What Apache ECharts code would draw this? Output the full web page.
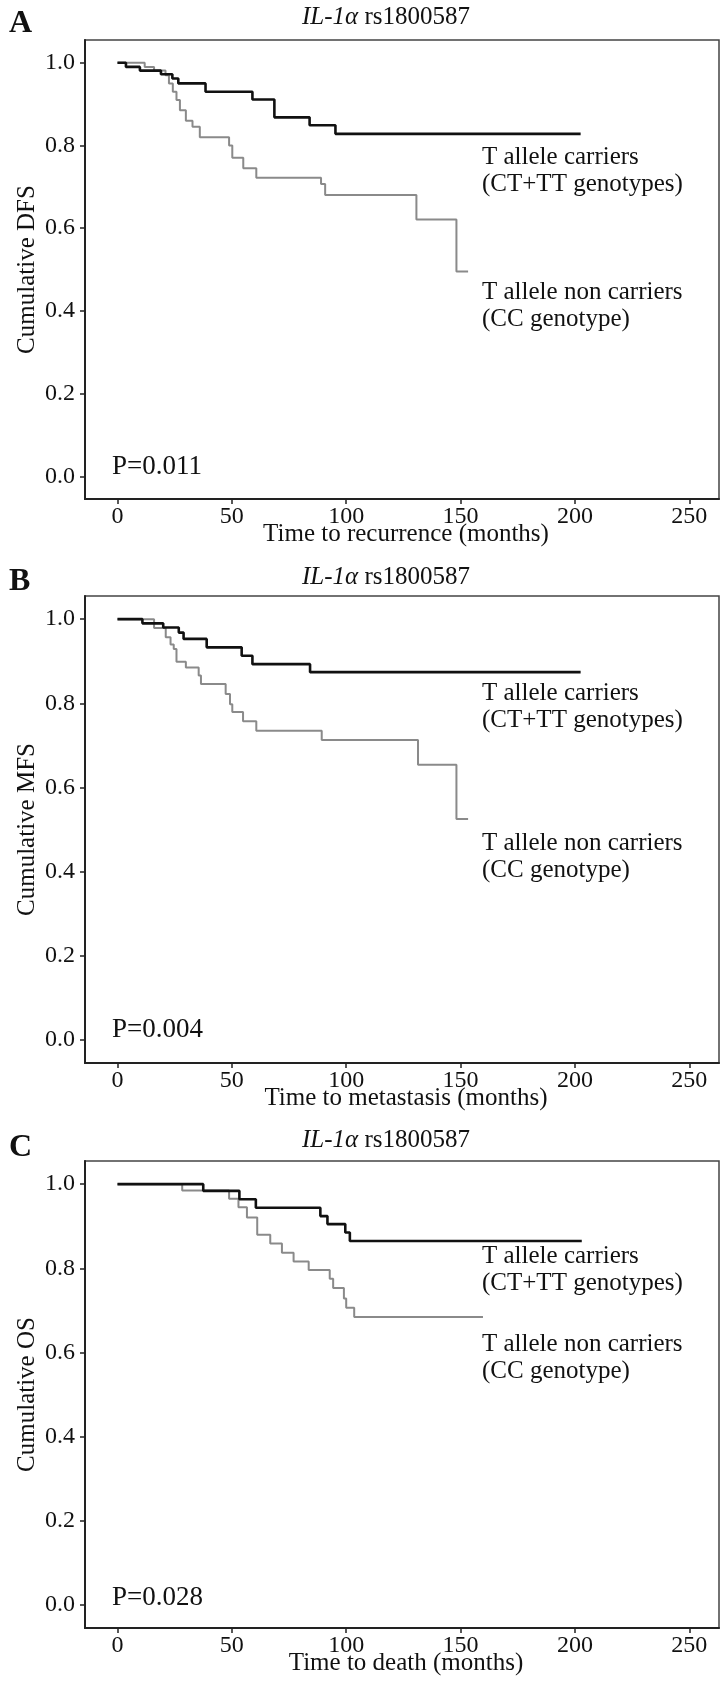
<!DOCTYPE html>
<html>
<head>
<meta charset="utf-8">
<script src="https://cdn.jsdelivr.net/npm/echarts@6/dist/echarts.min.js"></script>
<style>html,body{margin:0;padding:0;background:#fff}#c{width:724px;height:1692px}</style>
</head>
<body>
<div id="c"></div>
<script>
// ---- data ----
const xTicks = [0, 50, 100, 150, 200, 250];
const yTicks = [0.0, 0.2, 0.4, 0.6, 0.8, 1.0];

const panelLetters = ['A', 'B', 'C'];
const yTitles = ['Cumulative DFS', 'Cumulative MFS', 'Cumulative OS'];
const xTitles = ['Time to recurrence (months)', 'Time to metastasis (months)', 'Time to death (months)'];
const pValues = ['P=0.011', 'P=0.004', 'P=0.028'];
const carrierLabel = ['T allele carriers', '(CT+TT genotypes)'];
const nonCarrierLabel = ['T allele non carriers', '(CC genotype)'];

// Panel A: DFS
const dfsCarrierTime = [0, 3.7, 9.8, 19, 24, 26.6, 38.5, 59, 68.6, 84, 95.3, 202.5];
const dfsCarrierSurv = [1.0, 0.99, 0.981, 0.972, 0.962, 0.95, 0.93, 0.911, 0.868, 0.849, 0.828, 0.828];
const dfsNonTime = [0, 11.9, 16, 21, 22.5, 24.2, 25.8, 27.3, 29.9, 32.8, 36, 48.8, 50.2, 55, 60.7, 89, 90.8, 130.7, 148.2, 153.3];
const dfsNonSurv = [1.0, 0.99, 0.981, 0.97, 0.95, 0.93, 0.91, 0.885, 0.86, 0.845, 0.82, 0.80, 0.77, 0.745, 0.722, 0.707, 0.68, 0.621, 0.495, 0.495];

// Panel B: MFS
const mfsCarrierTime = [0, 10.9, 20, 26.8, 28.9, 39, 54.3, 59, 84.2, 202.5];
const mfsCarrierSurv = [1.0, 0.99, 0.98, 0.968, 0.953, 0.933, 0.913, 0.893, 0.874, 0.874];
const mfsNonTime = [0, 16, 21.1, 23.2, 24.6, 25.8, 29.9, 35.5, 36.5, 47.3, 49.2, 50.2, 54.9, 60.7, 89.3, 131.4, 148.2, 153.3];
const mfsNonSurv = [1.0, 0.979, 0.957, 0.94, 0.929, 0.899, 0.885, 0.866, 0.846, 0.822, 0.798, 0.779, 0.757, 0.735, 0.713, 0.654, 0.525, 0.525];

// Panel C: OS
const osCarrierTime = [0, 37.5, 53.3, 60.5, 88.7, 91.8, 99.6, 101.6, 203];
const osCarrierSurv = [1.0, 0.984, 0.964, 0.944, 0.924, 0.905, 0.885, 0.865, 0.865];
const osNonTime = [0, 28.3, 48.8, 52.9, 56.6, 61.1, 66.8, 71.9, 77, 83.6, 92.8, 94.3, 99, 100, 103.5, 159.8];
const osNonSurv = [1.0, 0.985, 0.965, 0.945, 0.921, 0.88, 0.859, 0.837, 0.816, 0.796, 0.775, 0.753, 0.728, 0.706, 0.684, 0.684];

const carrierTimes = [dfsCarrierTime, mfsCarrierTime, osCarrierTime];
const carrierSurvs = [dfsCarrierSurv, mfsCarrierSurv, osCarrierSurv];
const nonTimes = [dfsNonTime, mfsNonTime, osNonTime];
const nonSurvs = [dfsNonSurv, mfsNonSurv, osNonSurv];

// ---- layout ----
const FONT = '"Liberation Serif", "Times New Roman", serif';
const gridLeft = 85, gridWidth = 634;
const gridTops = [40, 596, 1161];
const gridHeights = [459, 467, 467];
const letterY = [24, 582, 1148];
const titleY = [17, 577, 1140];
const carrierY = [157, 693, 1256];
const nonCarrierY = [292, 843, 1344];
const pY = [467, 1030, 1598];
const lineGap = 27;

const zip = (a, b) => a.map((t, i) => [t, b[i]]);

const grids = [], xAxes = [], yAxes = [], series = [], graphics = [];
for (let i = 0; i < 3; i++) {
  grids.push({left: gridLeft, top: gridTops[i], width: gridWidth, height: gridHeights[i],
    show: true, borderColor: '#444', borderWidth: 1.5, backgroundColor: 'transparent'});
  xAxes.push({type: 'value', gridIndex: i, min: -14.2, max: 263,
    axisLine: {show: true, onZero: false, lineStyle: {color: '#222', width: 2}},
    axisTick: {show: true, customValues: xTicks, length: 5, lineStyle: {color: '#222', width: 1.5}},
    axisLabel: {customValues: xTicks, margin: 6, fontFamily: FONT, fontSize: 24, color: '#111'},
    splitLine: {show: false}});
  yAxes.push({type: 'value', gridIndex: i, min: -0.055, max: 1.055,
    axisLine: {show: true, onZero: false, lineStyle: {color: '#222', width: 2}},
    axisTick: {show: true, customValues: yTicks, length: 5, lineStyle: {color: '#222', width: 1.5}},
    axisLabel: {customValues: yTicks, margin: 10, fontFamily: FONT, fontSize: 24, color: '#111',
      formatter: v => v.toFixed(1)},
    splitLine: {show: false}});
  series.push({type: 'line', xAxisIndex: i, yAxisIndex: i, step: 'end', showSymbol: false,
    data: zip(nonTimes[i], nonSurvs[i]), lineStyle: {color: '#8a8a8a', width: 2}, z: 2});
  series.push({type: 'line', xAxisIndex: i, yAxisIndex: i, step: 'end', showSymbol: false,
    data: zip(carrierTimes[i], carrierSurvs[i]), lineStyle: {color: '#111', width: 2.6}, z: 3});

  const txt = (x, y, text, size, extra) => Object.assign({type: 'text', x: x, y: y,
    style: Object.assign({text: text, fontFamily: FONT, fontSize: size, fill: '#111',
      align: 'left', verticalAlign: 'middle'}, extra || {})});
  graphics.push(txt(9, letterY[i], panelLetters[i], 32, {fontWeight: 'bold'}));
  graphics.push({type: 'text', x: 386, y: titleY[i], style: {
    text: '{it|IL-1α} rs1800587', fontFamily: FONT, fontSize: 25, fill: '#111',
    align: 'center', verticalAlign: 'middle',
    rich: {it: {fontStyle: 'italic', fontFamily: FONT, fontSize: 25, fill: '#111'}}}});
  graphics.push(txt(482, carrierY[i], carrierLabel[0], 25));
  graphics.push(txt(482, carrierY[i] + lineGap, carrierLabel[1], 25));
  graphics.push(txt(482, nonCarrierY[i], nonCarrierLabel[0], 25));
  graphics.push(txt(482, nonCarrierY[i] + lineGap, nonCarrierLabel[1], 25));
  graphics.push(txt(112, pY[i], pValues[i], 27));
  graphics.push(txt(gridLeft + gridWidth / 2 + 4, gridTops[i] + gridHeights[i] + 35, xTitles[i], 25, {align: 'center'}));
  graphics.push({type: 'text', x: 27, y: gridTops[i] + gridHeights[i] / 2, rotation: Math.PI / 2,
    style: {text: yTitles[i], fontFamily: FONT, fontSize: 25, fill: '#111', align: 'center', verticalAlign: 'middle'}});
}

const chart = echarts.init(document.getElementById('c'), null, {renderer: 'canvas'});
chart.setOption({
  animation: false,
  backgroundColor: '#fff',
  grid: grids, xAxis: xAxes, yAxis: yAxes, series: series,
  graphic: {elements: graphics}
});
</script>
</body>
</html>
